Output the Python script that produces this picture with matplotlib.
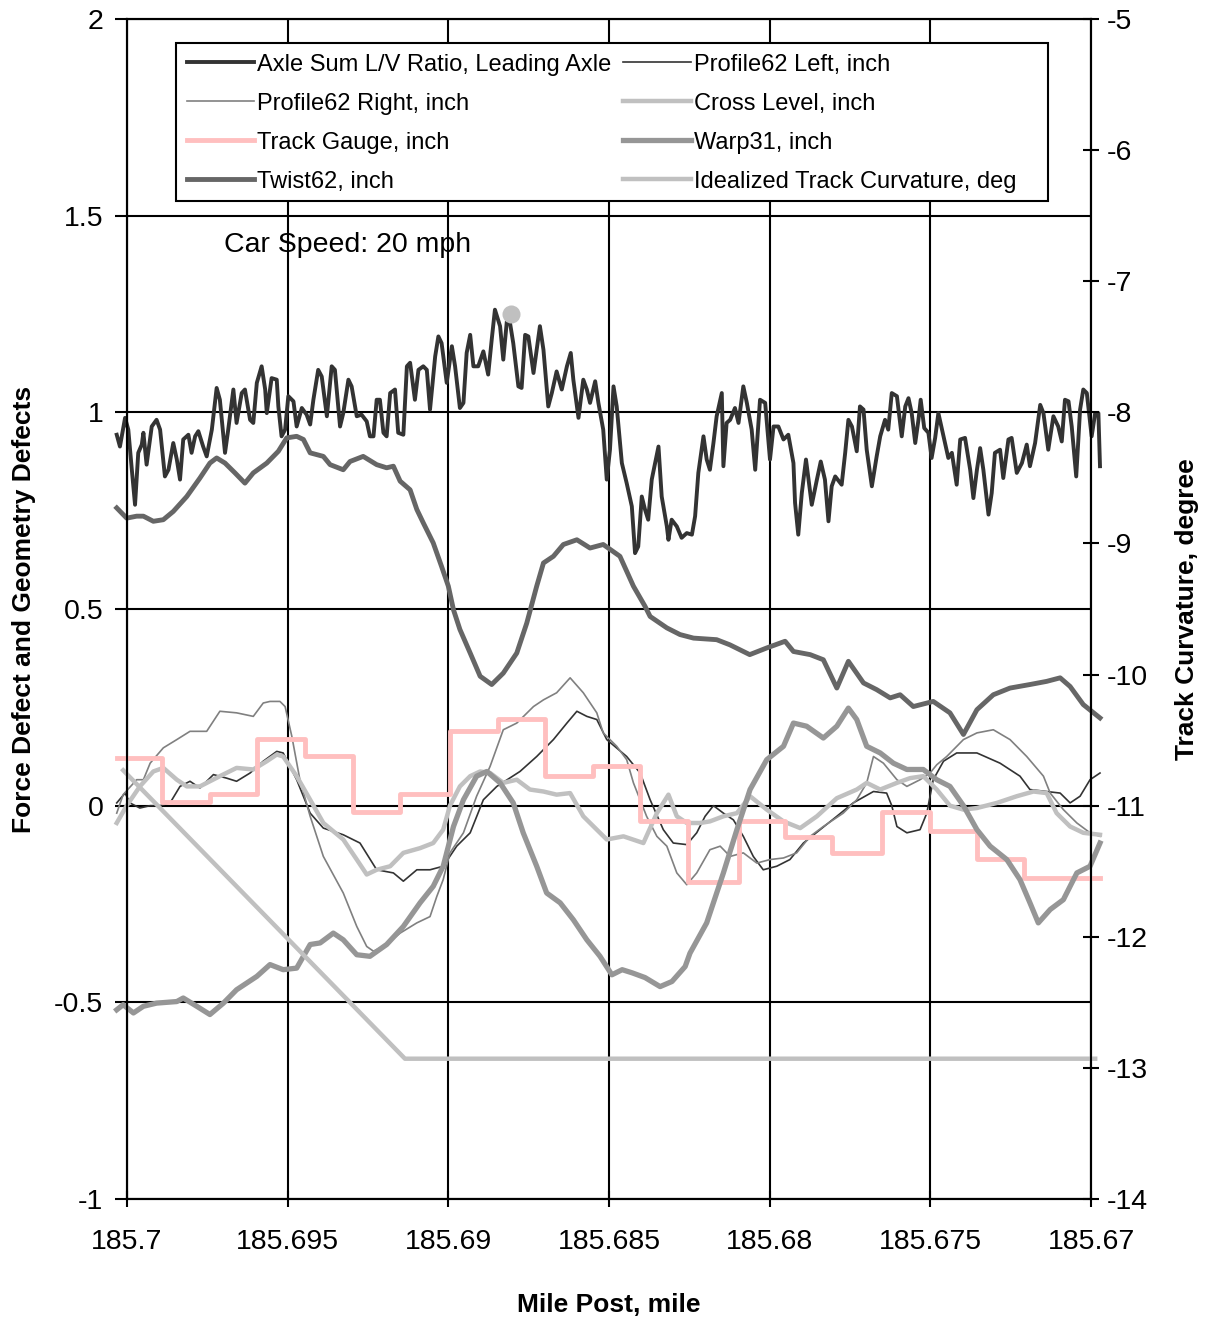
import numpy as np
import matplotlib.pyplot as plt
from matplotlib.patches import Rectangle
from matplotlib.ticker import FuncFormatter

plt.rcParams['font.family'] = ['Liberation Sans', 'DejaVu Sans']

# positions along track: thousandths of a mile past MP 185.7 (mile post decreases)
lv_off = [
    -0.32, -0.22, -0.06, 0.04, 0.15, 0.25, 0.35, 0.46, 0.51, 0.61,
    0.77, 0.92, 1.03, 1.18, 1.29, 1.44, 1.55, 1.65, 1.75, 1.91,
    2.01, 2.12, 2.22, 2.37, 2.48, 2.64, 2.79, 2.89, 3.05, 3.15,
    3.31, 3.41, 3.57, 3.67, 3.83, 3.93, 4.04, 4.19, 4.30, 4.35,
    4.50, 4.66, 4.71, 4.81, 4.92, 5.02, 5.18, 5.28, 5.44, 5.59,
    5.70, 5.80, 5.95, 6.06, 6.22, 6.37, 6.47, 6.63, 6.73, 6.89,
    6.99, 7.15, 7.30, 7.46, 7.56, 7.67, 7.77, 7.87, 7.98, 8.08,
    8.19, 8.34, 8.44, 8.60, 8.71, 8.81, 8.96, 9.07, 9.22, 9.33,
    9.43, 9.59, 9.69, 9.79, 9.95, 10.11, 10.21, 10.36, 10.47, 10.57,
    10.68, 10.78, 10.93, 11.09, 11.24, 11.35, 11.45, 11.61, 11.71, 11.82,
    11.92, 12.02, 12.18, 12.28, 12.39, 12.49, 12.65, 12.85, 12.96, 13.11,
    13.22, 13.37, 13.53, 13.69, 13.81, 13.89, 14.05, 14.20, 14.31, 14.41,
    14.57, 14.67, 14.82, 14.93, 15.03, 15.14, 15.24, 15.40, 15.55, 15.71,
    15.81, 15.91, 16.02, 16.12, 16.22, 16.33, 16.54, 16.64, 16.80, 16.85,
    16.95, 17.11, 17.26, 17.42, 17.58, 17.68, 17.78, 17.94, 18.04, 18.14,
    18.25, 18.35, 18.51, 18.56, 18.66, 18.77, 18.92, 19.03, 19.18, 19.29,
    19.44, 19.55, 19.70, 19.86, 20.01, 20.12, 20.27, 20.43, 20.58, 20.74,
    20.79, 20.89, 21.00, 21.13, 21.31, 21.47, 21.59, 21.72, 21.83, 21.93,
    22.04, 22.24, 22.35, 22.45, 22.56, 22.71, 22.81, 22.92, 23.02, 23.18,
    23.33, 23.44, 23.59, 23.69, 23.80, 23.96, 24.11, 24.22, 24.32, 24.42,
    24.53, 24.63, 24.70, 24.81, 24.94, 25.04, 25.15, 25.25, 25.41, 25.56,
    25.67, 25.82, 25.93, 26.08, 26.24, 26.34, 26.45, 26.55, 26.65, 26.81,
    26.91, 27.01, 27.17, 27.27, 27.43, 27.53, 27.69, 27.85, 28.00, 28.10,
    28.26, 28.42, 28.52, 28.67, 28.83, 28.98, 29.09, 29.19, 29.30, 29.40,
    29.54, 29.66, 29.76, 29.87, 30.02, 30.13, 30.23, 30.28]
lv_ratio = [
    0.943, 0.913, 0.986, 0.956, 0.854, 0.765, 0.897, 0.918, 0.948, 0.867,
    0.964, 0.981, 0.956, 0.837, 0.854, 0.922, 0.880, 0.829, 0.931, 0.943,
    0.897, 0.939, 0.952, 0.913, 0.888, 0.956, 1.062, 1.032, 0.897, 0.956,
    1.058, 0.973, 1.049, 1.058, 0.981, 0.973, 1.075, 1.117, 1.058, 0.998,
    1.087, 1.083, 1.015, 0.939, 0.956, 1.041, 1.028, 0.964, 1.011, 0.994,
    0.969, 1.032, 1.108, 1.091, 0.990, 1.117, 1.108, 0.964, 0.998, 1.083,
    1.066, 0.990, 0.994, 0.977, 0.939, 0.939, 1.032, 1.032, 0.948, 0.939,
    1.049, 1.058, 0.948, 0.943, 1.117, 1.126, 1.032, 1.108, 1.117, 1.108,
    1.007, 1.142, 1.193, 1.176, 1.075, 1.168, 1.117, 1.011, 1.024, 1.151,
    1.197, 1.117, 1.117, 1.155, 1.096, 1.185, 1.261, 1.219, 1.134, 1.231,
    1.227, 1.176, 1.066, 1.062, 1.197, 1.193, 1.100, 1.219, 1.159, 1.015,
    1.049, 1.104, 1.058, 1.117, 1.151, 1.083, 0.986, 1.083, 1.058, 1.024,
    1.079, 1.024, 0.956, 0.829, 0.905, 1.066, 1.015, 0.871, 0.820, 0.761,
    0.642, 0.659, 0.786, 0.753, 0.727, 0.829, 0.913, 0.786, 0.710, 0.676,
    0.727, 0.710, 0.681, 0.693, 0.689, 0.736, 0.846, 0.939, 0.880, 0.854,
    0.922, 0.990, 1.049, 0.863, 0.973, 0.981, 1.011, 0.973, 1.066, 1.024,
    0.956, 0.854, 1.032, 1.024, 0.880, 0.964, 0.964, 0.931, 0.943, 0.871,
    0.770, 0.689, 0.795, 0.880, 0.765, 0.829, 0.875, 0.829, 0.723, 0.812,
    0.837, 0.816, 0.897, 0.981, 0.964, 0.901, 1.015, 1.007, 0.905, 0.812,
    0.888, 0.939, 0.981, 0.956, 1.049, 1.041, 0.939, 1.015, 1.036, 0.998,
    0.922, 0.981, 1.032, 0.960, 0.948, 0.884, 0.935, 0.998, 0.939, 0.884,
    0.897, 0.816, 0.931, 0.935, 0.854, 0.782, 0.854, 0.909, 0.854, 0.740,
    0.795, 0.897, 0.905, 0.833, 0.931, 0.935, 0.846, 0.871, 0.918, 0.863,
    0.922, 1.019, 0.998, 0.905, 0.990, 0.964, 0.926, 1.032, 1.028, 0.964,
    0.837, 1.007, 1.058, 1.049, 0.939, 0.998, 0.998, 0.863]

lv_peak_off = [11.95]
lv_peak = [1.251]

twist_off = [
    -0.32, -0.01, 0.30, 0.51, 0.82, 1.13, 1.44, 1.86, 2.27, 2.58,
    2.79, 3.05, 3.36, 3.67, 3.93, 4.35, 4.71, 4.97, 5.28, 5.49,
    5.70, 6.11, 6.32, 6.73, 6.94, 7.35, 7.77, 8.08, 8.29, 8.50,
    8.81, 9.02, 9.22, 9.53, 9.79, 10.00, 10.16, 10.36, 10.68, 10.99,
    11.35, 11.71, 12.13, 12.44, 12.75, 12.96, 13.27, 13.58, 14.00, 14.41,
    14.82, 15.34, 15.76, 16.12, 16.28, 16.80, 17.21, 17.63, 18.35, 18.76,
    19.38, 19.91, 20.48, 20.74, 21.26, 21.67, 22.09, 22.45, 22.92, 23.33,
    23.75, 24.06, 24.47, 25.09, 25.61, 26.03, 26.45, 26.96, 27.48, 28.10,
    28.62, 29.04, 29.35, 29.76, 30.28]
twist62 = [
    0.757, 0.731, 0.736, 0.736, 0.723, 0.727, 0.748, 0.786, 0.833, 0.871,
    0.884, 0.871, 0.846, 0.820, 0.846, 0.871, 0.901, 0.935, 0.939, 0.931,
    0.897, 0.888, 0.867, 0.854, 0.875, 0.888, 0.867, 0.859, 0.863, 0.825,
    0.803, 0.753, 0.719, 0.668, 0.608, 0.558, 0.498, 0.448, 0.388, 0.329,
    0.308, 0.337, 0.388, 0.464, 0.558, 0.617, 0.634, 0.664, 0.676, 0.655,
    0.664, 0.634, 0.558, 0.507, 0.481, 0.452, 0.435, 0.426, 0.422, 0.409,
    0.384, 0.401, 0.418, 0.392, 0.384, 0.371, 0.299, 0.367, 0.312, 0.295,
    0.274, 0.282, 0.252, 0.265, 0.236, 0.181, 0.244, 0.282, 0.299, 0.308,
    0.316, 0.325, 0.303, 0.257, 0.223]

prof_left_off = [
    -0.32, -0.06, 0.09, 0.40, 0.72, 1.03, 1.34, 1.65, 1.96, 2.27,
    2.69, 3.10, 3.41, 3.83, 4.24, 4.66, 4.86, 5.28, 5.70, 6.11,
    6.73, 7.25, 7.77, 8.29, 8.60, 9.02, 9.43, 9.84, 10.26, 10.68,
    11.09, 11.51, 12.23, 12.75, 13.27, 13.69, 14.00, 14.31, 14.62,
    14.93, 15.55, 15.97, 16.28, 16.69, 17.00, 17.42, 17.73, 17.99, 18.25,
    18.56, 18.87, 19.18, 19.49, 19.80, 20.22, 20.63, 21.05, 21.57, 22.09,
    22.60, 23.23, 23.64, 23.80, 23.96, 24.27, 24.68, 24.89, 25.09, 25.41,
    25.82, 26.45, 27.17, 27.79, 28.10, 28.62, 29.04, 29.35, 29.66, 29.97,
    30.28]
prof_left = [
    0.007, 0.032, 0.007, -0.006, 0.0, 0.0, 0.007, 0.049, 0.062, 0.045,
    0.079, 0.070, 0.062, 0.083, 0.113, 0.138, 0.134, 0.066, -0.019, -0.057,
    -0.074, -0.095, -0.163, -0.171, -0.192, -0.163, -0.163, -0.154, -0.103, -0.069,
    0.015, 0.049, 0.087, 0.125, 0.168, 0.210, 0.240, 0.227, 0.219,
    0.168, 0.125, 0.083, 0.015, -0.061, -0.095, -0.099, -0.069, -0.027, 0.0,
    -0.019, -0.036, -0.078, -0.129, -0.163, -0.154, -0.137, -0.095, -0.061, -0.027,
    0.007, 0.036, 0.032, 0.0, -0.053, -0.069, -0.061, -0.019, 0.066, 0.113,
    0.134, 0.134, 0.108, 0.075, 0.041, 0.036, 0.032, 0.007, 0.024, 0.066,
    0.083]

prof_right_off = [
    -0.32, -0.12, 0.30, 0.51, 0.72, 1.13, 1.55, 1.96, 2.48, 2.89,
    3.41, 3.93, 4.24, 4.45, 4.76, 4.92, 5.13, 5.38, 5.70, 6.11,
    6.73, 7.15, 7.46, 7.67, 8.08, 8.50, 9.02, 9.43, 9.64, 9.84,
    10.05, 10.47, 10.88, 11.30, 11.71, 12.13, 12.65, 12.96, 13.37, 13.79,
    14.20, 14.62, 14.82, 15.24, 15.55, 15.76, 16.17, 16.49, 16.80, 17.11,
    17.42, 17.73, 18.14, 18.46, 18.77, 19.18, 19.60, 20.01, 20.43, 20.84,
    21.26, 21.67, 22.29, 22.71, 23.02, 23.23, 23.54, 23.96, 24.27, 24.68,
    24.99, 25.20, 25.51, 26.03, 26.45, 26.96, 27.48, 28.00, 28.52, 28.73,
    29.14, 29.56, 29.97, 30.28]
prof_right = [
    -0.019, 0.028, 0.066, 0.066, 0.108, 0.147, 0.168, 0.189, 0.189, 0.240,
    0.236, 0.227, 0.261, 0.265, 0.265, 0.252, 0.176, 0.066, -0.027, -0.129,
    -0.222, -0.307, -0.358, -0.370, -0.353, -0.324, -0.298, -0.282, -0.231, -0.188,
    -0.120, -0.069, 0.024, 0.100, 0.193, 0.210, 0.252, 0.269, 0.287, 0.325,
    0.287, 0.236, 0.185, 0.151, 0.117, 0.058, -0.027, -0.078, -0.103, -0.171,
    -0.201, -0.171, -0.112, -0.103, -0.129, -0.120, -0.146, -0.137, -0.133, -0.120,
    -0.078, -0.053, -0.019, 0.015, 0.058, 0.125, 0.108, 0.066, 0.049, 0.066,
    0.083, 0.104, 0.125, 0.168, 0.185, 0.193, 0.168, 0.125, 0.075, 0.032,
    -0.010, -0.044, -0.069, -0.078]

cross_off = [
    -0.32, -0.01, 0.40, 0.82, 1.13, 1.55, 1.86, 2.27, 2.89, 3.41,
    3.93, 4.35, 4.66, 4.86, 5.28, 5.70, 6.11, 6.73, 7.15, 7.46,
    7.77, 8.19, 8.60, 9.12, 9.53, 9.84, 10.05, 10.36, 10.68, 10.99,
    11.30, 11.71, 12.13, 12.54, 12.96, 13.37, 13.79, 14.20, 14.62, 14.93,
    15.45, 16.07, 16.49, 16.85, 17.11, 17.42, 17.83, 18.14, 18.56, 18.98,
    19.39, 19.91, 20.43, 20.95, 21.47, 22.09, 22.71, 23.02, 23.44, 23.96,
    24.37, 24.78, 25.20, 25.61, 26.03, 26.45, 27.07, 27.69, 28.21, 28.62,
    28.93, 29.35, 29.76, 30.28]
cross_level = [
    -0.044, 0.0, 0.049, 0.087, 0.096, 0.066, 0.049, 0.049, 0.075, 0.096,
    0.092, 0.113, 0.130, 0.125, 0.075, 0.015, -0.044, -0.086, -0.137, -0.175,
    -0.163, -0.154, -0.120, -0.108, -0.095, -0.061, 0.0, 0.049, 0.075, 0.087,
    0.083, 0.058, 0.066, 0.041, 0.036, 0.028, 0.032, -0.027, -0.061, -0.086,
    -0.078, -0.095, -0.019, 0.028, -0.027, -0.044, -0.044, -0.040, -0.027, -0.019,
    0.024, -0.010, -0.040, -0.057, -0.027, 0.019, 0.041, 0.058, 0.041, 0.058,
    0.070, 0.075, 0.041, 0.0, -0.010, -0.006, 0.007, 0.024, 0.036, 0.032,
    -0.019, -0.053, -0.069, -0.074]

# gauge changes in steps: offset where each level starts, last entry ends the trace
gauge_off = [-0.32, 1.08, 2.58, 4.04, 5.54, 7.04, 8.50, 10.05, 11.56, 13.01,
             14.51, 15.97, 17.47, 19.03, 20.48, 21.93, 23.49, 24.99, 26.45, 27.90,
             30.28]
track_gauge = [0.12, 0.01, 0.03, 0.17, 0.125, -0.015, 0.03, 0.19, 0.22, 0.075,
               0.10, -0.04, -0.195, -0.04, -0.08, -0.12, -0.015, -0.065, -0.135, -0.185,
               -0.185]

warp_off = [
    -0.32, -0.12, 0.20, 0.51, 0.92, 1.55, 1.75, 2.17, 2.58, 3.00,
    3.41, 4.04, 4.45, 4.86, 5.28, 5.70, 6.01, 6.42, 6.73, 7.15,
    7.56, 8.08, 8.60, 9.12, 9.53, 9.84, 10.16, 10.47, 10.88, 11.20,
    11.61, 12.02, 12.33, 12.75, 13.06, 13.48, 13.89, 14.31, 14.72, 15.09,
    15.41, 15.72, 16.12, 16.59, 16.96, 17.37, 17.52, 18.04, 18.56, 18.98,
    19.39, 19.91, 20.43, 20.74, 21.15, 21.67, 22.09, 22.45, 22.71, 23.02,
    23.44, 23.85, 24.27, 24.78, 25.20, 25.61, 26.03, 26.45, 26.86, 27.38,
    27.79, 28.10, 28.36, 28.73, 29.14, 29.56, 29.97, 30.28]
warp31 = [
    -0.519, -0.506, -0.527, -0.510, -0.502, -0.498, -0.489, -0.510, -0.531, -0.502,
    -0.468, -0.434, -0.404, -0.417, -0.413, -0.353, -0.349, -0.324, -0.341, -0.379,
    -0.383, -0.353, -0.307, -0.247, -0.205, -0.154, -0.053, 0.015, 0.075, 0.087,
    0.058, 0.007, -0.069, -0.154, -0.222, -0.247, -0.290, -0.341, -0.383, -0.430,
    -0.417, -0.425, -0.437, -0.460, -0.447, -0.409, -0.375, -0.298, -0.171, -0.061,
    0.041, 0.117, 0.151, 0.210, 0.202, 0.172, 0.202, 0.248, 0.219, 0.151,
    0.134, 0.108, 0.092, 0.092, 0.066, 0.049, 0.0, -0.061, -0.103, -0.137,
    -0.188, -0.247, -0.298, -0.264, -0.239, -0.171, -0.154, -0.095]

curv_off = [-0.12, 8.65, 30.13]
curvature = [-10.73, -12.93, -12.93]

x_ticks = [185.7, 185.695, 185.69, 185.685, 185.68, 185.675, 185.67]


def to_mp(off):
    return 185.7 - np.asarray(off) / 1000.0


fig = plt.figure(figsize=(12.09, 13.22), dpi=100)
ax = fig.add_axes([0.10505, 0.09304, 0.79735, 0.89259])
ax2 = ax.twinx()

lines = {}
lines['lv'], = ax.plot(to_mp(lv_off), lv_ratio, color='#333333', lw=2.8,
                       label='Axle Sum L/V Ratio, Leading Axle', clip_on=False, zorder=3)
lines['pl'], = ax.plot(to_mp(prof_left_off), prof_left, color='#333333', lw=1.2,
                       label='Profile62 Left, inch', clip_on=False, zorder=3)
lines['pr'], = ax.plot(to_mp(prof_right_off), prof_right, color='#808080', lw=1.2,
                       label='Profile62 Right, inch', clip_on=False, zorder=3)
lines['cl'], = ax.plot(to_mp(cross_off), cross_level, color='#C0C0C0', lw=3.2,
                       label='Cross Level, inch', clip_on=False, zorder=3)
lines['tg'], = ax.plot(to_mp(gauge_off), track_gauge, color='#FFBFBF', lw=3.5,
                       drawstyle='steps-post', label='Track Gauge, inch', clip_on=False, zorder=3)
lines['wp'], = ax.plot(to_mp(warp_off), warp31, color='#969696', lw=3.8,
                       label='Warp31, inch', clip_on=False, zorder=3)
lines['tw'], = ax.plot(to_mp(twist_off), twist62, color='#666666', lw=3.5,
                       label='Twist62, inch', clip_on=False, zorder=3)
ax.plot(to_mp(lv_peak_off), lv_peak, 'o', color='#C0C0C0', ms=13, mec='none', zorder=4)
lines['cv'], = ax2.plot(to_mp(curv_off), curvature, color='#C0C0C0', lw=3.2,
                        label='Idealized Track Curvature, deg', clip_on=False)

ax.set_xlim(185.7, 185.67)
ax.set_ylim(-1, 2)
ax2.set_ylim(-14, -5)
ax.set_xticks(x_ticks)
ax.set_yticks([-1, -0.5, 0, 0.5, 1, 1.5, 2])
ax2.set_yticks(list(range(-14, -4)))
fmt = FuncFormatter(lambda v, p: '%g' % v)
ax.xaxis.set_major_formatter(fmt)
ax.yaxis.set_major_formatter(fmt)
ax2.yaxis.set_major_formatter(fmt)

ax.set_axisbelow(True)
ax.grid(True, color='black', lw=1.5)
for a in (ax, ax2):
    for s in a.spines.values():
        s.set_linewidth(1.5)
        s.set_color('black')

ax.tick_params(axis='y', direction='out', length=9, width=1.5, labelsize=20.5, pad=8)
ax.tick_params(axis='x', direction='inout', length=11, width=1.5, labelsize=20.5, pad=16)
ax2.tick_params(axis='y', direction='inout', length=11, width=1.5, labelsize=20.5, pad=6)

ax.set_xlabel('Mile Post, mile', fontsize=19, fontweight='bold')
ax.xaxis.set_label_coords(0.5, -0.08)
ax.set_ylabel('Force Defect and Geometry Defects', fontsize=19, fontweight='bold')
ax.yaxis.set_label_coords(-0.0945, 0.5)
ax2.set_ylabel('Track Curvature, degree', fontsize=19, fontweight='bold')
ax2.yaxis.set_label_coords(1.087, 0.5)

ax.text(to_mp(3.02), 1.426, 'Car Speed: 20 mph', fontsize=20.5, ha='left', va='center')

# legend box drawn as its own frame, like the spreadsheet legend area
ax2.add_patch(Rectangle((0.0508, 0.8458), 0.9046, 0.1339, transform=ax2.transAxes,
                        facecolor='white', edgecolor='black', lw=1.5, zorder=4))
order = ['lv', 'pr', 'tg', 'tw', 'pl', 'cl', 'wp', 'cv']
leg = ax2.legend([lines[k] for k in order], [lines[k].get_label() for k in order],
                 ncol=2, fontsize=17, loc='upper left', bbox_to_anchor=(0.0508, 0.9797),
                 borderaxespad=0, handlelength=2.85, handletextpad=0.15,
                 columnspacing=0.5, labelspacing=0.72, borderpad=0.45,
                 frameon=False)
leg.set_zorder(5)

fig.savefig('out.png', dpi=100)
